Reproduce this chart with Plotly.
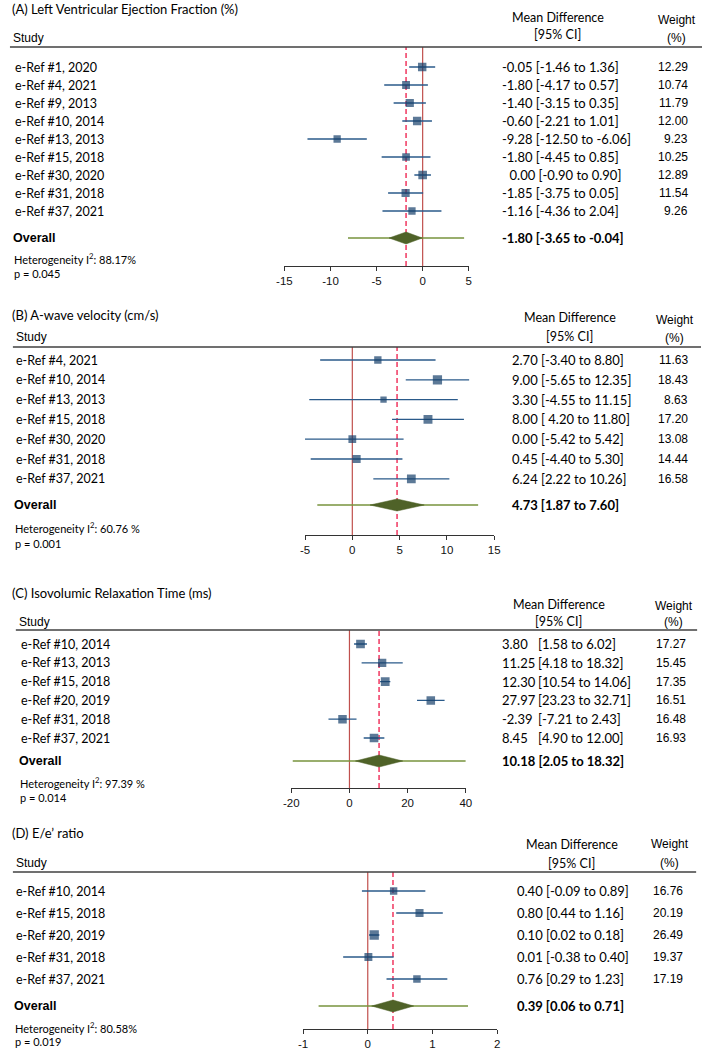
import math
import plotly.graph_objects as go

W, H = 709, 1050

# ---------------- Panel A: Left Ventricular Ejection Fraction ----------------
A_title = "(A) Left Ventricular Ejection Fraction (%)"
A_studies = ["e-Ref #1, 2020", "e-Ref #4, 2021", "e-Ref #9, 2013", "e-Ref #10, 2014",
             "e-Ref #13, 2013", "e-Ref #15, 2018", "e-Ref #30, 2020", "e-Ref #31, 2018",
             "e-Ref #37, 2021"]
A_md = [-0.05, -1.80, -1.40, -0.60, -9.28, -1.80, 0.00, -1.85, -1.16]
A_lo = [-1.46, -4.17, -3.15, -2.21, -12.50, -4.45, -0.90, -3.75, -4.36]
A_hi = [1.36, 0.57, 0.35, 1.01, -6.06, 0.85, 0.90, 0.05, 2.04]
A_weight = [12.29, 10.74, 11.79, 12.00, 9.23, 10.25, 12.89, 11.54, 9.26]
A_est_text = ["-0.05 [-1.46 to 1.36]", "-1.80 [-4.17 to 0.57]", "-1.40 [-3.15 to 0.35]",
              "-0.60 [-2.21 to 1.01]", "-9.28 [-12.50 to -6.06]", "-1.80 [-4.45 to 0.85]",
              "\u20070.00 [-0.90 to 0.90]", "-1.85 [-3.75 to 0.05]", "-1.16 [-4.36 to 2.04]"]
A_ci_text = [""] * 9
A_pooled = [-1.80, -3.65, -0.04]
A_pred = [-8.1, 4.5]
A_pooled_text = "-1.80 [-3.65 to -0.04]"
A_het = "Heterogeneity I<sup>2</sup>: 88.17%"
A_p = "p = 0.045"
A_ticks = [-15, -10, -5, 0, 5]

# ---------------- Panel B: A-wave velocity ----------------
B_title = "(B) A-wave velocity (cm/s)"
B_studies = ["e-Ref #4, 2021", "e-Ref #10, 2014", "e-Ref #13, 2013", "e-Ref #15, 2018",
             "e-Ref #30, 2020", "e-Ref #31, 2018", "e-Ref #37, 2021"]
B_md = [2.70, 9.00, 3.30, 8.00, 0.00, 0.45, 6.24]
B_lo = [-3.40, 5.65, -4.55, 4.20, -5.42, -4.40, 2.22]
B_hi = [8.80, 12.35, 11.15, 11.80, 5.42, 5.30, 10.26]
B_weight = [11.63, 18.43, 8.63, 17.20, 13.08, 14.44, 16.58]
B_est_text = ["2.70 [-3.40 to 8.80]", "9.00 [-5.65 to 12.35]", "3.30 [-4.55 to 11.15]",
              "8.00 [ 4.20 to 11.80]", "0.00 [-5.42 to 5.42]", "0.45 [-4.40 to 5.30]",
              "6.24 [2.22 to 10.26]"]
B_ci_text = [""] * 7
B_pooled = [4.73, 1.87, 7.60]
B_pred = [-3.7, 13.3]
B_pooled_text = "4.73 [1.87 to 7.60]"
B_het = "Heterogeneity I<sup>2</sup>: 60.76 %"
B_p = "p = 0.001"
B_ticks = [-5, 0, 5, 10, 15]

# ---------------- Panel C: Isovolumic Relaxation Time ----------------
C_title = "(C) Isovolumic Relaxation Time (ms)"
C_studies = ["e-Ref #10, 2014", "e-Ref #13, 2013", "e-Ref #15, 2018", "e-Ref #20, 2019",
             "e-Ref #31, 2018", "e-Ref #37, 2021"]
C_md = [3.80, 11.25, 12.30, 27.97, -2.39, 8.45]
C_lo = [1.58, 4.18, 10.54, 23.23, -7.21, 4.90]
C_hi = [6.02, 18.32, 14.06, 32.71, 2.43, 12.00]
C_weight = [17.27, 15.45, 17.35, 16.51, 16.48, 16.93]
C_est_text = ["3.80", "11.25", "12.30", "27.97", "-2.39", "8.45"]
C_ci_text = ["[1.58 to 6.02]", "[4.18 to 18.32]", "[10.54 to 14.06]", "[23.23 to 32.71]",
             "[-7.21 to 2.43]", "[4.90 to 12.00]"]
C_pooled = [10.18, 2.05, 18.32]
C_pred = [-19.5, 40.0]
C_pooled_text = "10.18 [2.05 to 18.32]"
C_het = "Heterogeneity I<sup>2</sup>: 97.39 %"
C_p = "p = 0.014"
C_ticks = [-20, 0, 20, 40]

# ---------------- Panel D: E/e' ratio ----------------
D_title = "(D) E/e\u2019 ratio"
D_studies = ["e-Ref #10, 2014", "e-Ref #15, 2018", "e-Ref #20, 2019", "e-Ref #31, 2018",
             "e-Ref #37, 2021"]
D_md = [0.40, 0.80, 0.10, 0.01, 0.76]
D_lo = [-0.09, 0.44, 0.02, -0.38, 0.29]
D_hi = [0.89, 1.16, 0.18, 0.40, 1.23]
D_weight = [16.76, 20.19, 26.49, 19.37, 17.19]
D_est_text = ["0.40 [-0.09 to 0.89]", "0.80 [0.44 to 1.16]", "0.10 [0.02 to 0.18]",
              "0.01 [-0.38 to 0.40]", "0.76 [0.29 to 1.23]"]
D_ci_text = [""] * 5
D_pooled = [0.39, 0.06, 0.71]
D_pred = [-0.76, 1.55]
D_pooled_text = "0.39 [0.06 to 0.71]"
D_het = "Heterogeneity I<sup>2</sup>: 80.58%"
D_p = "p = 0.019"
D_ticks = [-1, 0, 1, 2]

# ---------------- layout geometry (pixels) ----------------
GEOM = [
    dict(title_y=9, study_x=4, study_y=38, hdr_y=47, hdr_x0=2, hdr_x1=708, md_x=561, md_y=18,
         ci_y=35, wt_x=682, wt_y=20, pct_y=38, row0=67, drow=18, ov_y=238, het_y=258, p_y=273,
         lab_x=6, ax_y=266, ax_x0=282, ax_x1=470, txt_x=503, txt2_x=540, wr_x=695, msz=2.4),
    dict(title_y=315, study_x=7, study_y=337, hdr_y=347, hdr_x0=5, hdr_x1=707, md_x=573, md_y=317,
         ci_y=337, wt_x=680, wt_y=320, pct_y=338, row0=360, drow=19.8, ov_y=505, het_y=527,
         p_y=543, lab_x=7, ax_y=535, ax_x0=303, ax_x1=496, txt_x=513, txt2_x=540, wr_x=695, msz=2.15),
    dict(title_y=593, study_x=10, study_y=622, hdr_y=630, hdr_x0=8, hdr_x1=703, md_x=562, md_y=604,
         ci_y=621, wt_x=679, wt_y=606, pct_y=622, row0=644, drow=18.8, ov_y=761, het_y=782,
         p_y=797, lab_x=12, ax_y=788, ax_x0=289, ax_x1=467, txt_x=503, txt2_x=540, wr_x=693, msz=2.1),
    dict(title_y=833, study_x=7, study_y=863, hdr_y=872, hdr_x0=5, hdr_x1=702, md_x=575, md_y=844,
         ci_y=863, wt_x=675, wt_y=844, pct_y=863, row0=891, drow=22, ov_y=1006, het_y=1027,
         p_y=1041, lab_x=7, ax_y=1029, ax_x0=301, ax_x1=499, txt_x=518, txt2_x=540, wr_x=690, msz=1.8),
]

PANELS = [
    dict(title=A_title, studies=A_studies, md=A_md, lo=A_lo, hi=A_hi, w=A_weight, est=A_est_text,
         ci=A_ci_text, pooled=A_pooled, pred=A_pred, ptxt=A_pooled_text, het=A_het, p=A_p, ticks=A_ticks),
    dict(title=B_title, studies=B_studies, md=B_md, lo=B_lo, hi=B_hi, w=B_weight, est=B_est_text,
         ci=B_ci_text, pooled=B_pooled, pred=B_pred, ptxt=B_pooled_text, het=B_het, p=B_p, ticks=B_ticks),
    dict(title=C_title, studies=C_studies, md=C_md, lo=C_lo, hi=C_hi, w=C_weight, est=C_est_text,
         ci=C_ci_text, pooled=C_pooled, pred=C_pred, ptxt=C_pooled_text, het=C_het, p=C_p, ticks=C_ticks),
    dict(title=D_title, studies=D_studies, md=D_md, lo=D_lo, hi=D_hi, w=D_weight, est=D_est_text,
         ci=D_ci_text, pooled=D_pooled, pred=D_pred, ptxt=D_pooled_text, het=D_het, p=D_p, ticks=D_ticks),
]

CAL = "Lato, 'Open Sans', sans-serif"
ARI = "'Liberation Sans', Arial, sans-serif"
TXT = "#000000"
SQ = "#17406b"
CI_LINE = "#2a5a8a"
DIAMOND = "#4f6228"
PRED = "#77933c"
NULL_LINE = "#c0504d"
POOL_LINE = "#f0365f"


def px(x):
    return x / W


def py(y):
    return 1 - y / H


fig = go.Figure()
annotations = []
shapes = []
layout_axes = {}


def ann(text, x, y, xanchor="left", family=CAL, size=12, yref="paper", bold=False):
    annotations.append(dict(text=f"<b>{text}</b>" if bold else text, x=px(x), y=y,
                            xref="paper", yref=yref, xanchor=xanchor, yanchor="middle",
                            align=xanchor, showarrow=False, borderpad=0,
                            font=dict(family=family, size=size, color=TXT)))


for k, (P, G) in enumerate(zip(PANELS, GEOM), start=1):
    xa = "x" if k == 1 else f"x{k}"
    ya = "y" if k == 1 else f"y{k}"
    xkey = "xaxis" if k == 1 else f"xaxis{k}"
    ykey = "yaxis" if k == 1 else f"yaxis{k}"
    n = len(P["studies"])
    rows = [G["row0"] + i * G["drow"] for i in range(n)]

    layout_axes[xkey] = dict(
        domain=[px(G["ax_x0"]), px(G["ax_x1"])], range=[P["ticks"][0], P["ticks"][-1]],
        anchor=ya, showline=True, linecolor="#333333", linewidth=1, ticks="outside",
        ticklen=4, tickwidth=1, tickcolor="#333333", tickvals=P["ticks"],
        ticktext=[str(t) for t in P["ticks"]],
        tickfont=dict(family=ARI, size=11.5, color="#111111"), showgrid=False, zeroline=False,
        fixedrange=True)
    layout_axes[ykey] = dict(
        domain=[py(G["ax_y"]), py(G["hdr_y"])], range=[G["ax_y"], G["hdr_y"]], anchor=xa,
        visible=False, showgrid=False, zeroline=False, fixedrange=True)

    # CI whiskers
    cx, cy = [], []
    for lo, hi, y in zip(P["lo"], P["hi"], rows):
        cx += [lo, hi, None]
        cy += [y, y, None]
    fig.add_trace(go.Scatter(x=cx, y=cy, mode="lines", line=dict(color=CI_LINE, width=1.3),
                             xaxis=xa, yaxis=ya, hoverinfo="skip", showlegend=False))
    # squares
    fig.add_trace(go.Scatter(x=P["md"], y=rows, mode="markers",
                             marker=dict(symbol="square", color=SQ,
                                         size=[G["msz"] * math.sqrt(w) for w in P["w"]],
                                         line=dict(width=0)),
                             xaxis=xa, yaxis=ya, showlegend=False))
    # prediction line
    fig.add_trace(go.Scatter(x=P["pred"], y=[G["ov_y"], G["ov_y"]], mode="lines",
                             line=dict(color=PRED, width=1.4), xaxis=xa, yaxis=ya,
                             hoverinfo="skip", showlegend=False))
    # diamond
    est, plo, phi = P["pooled"]
    h = 6
    fig.add_trace(go.Scatter(x=[plo, est, phi, est, plo],
                             y=[G["ov_y"], G["ov_y"] - h, G["ov_y"], G["ov_y"] + h, G["ov_y"]],
                             mode="lines", fill="toself", fillcolor=DIAMOND,
                             line=dict(color=DIAMOND, width=0.5), xaxis=xa, yaxis=ya,
                             hoverinfo="skip", showlegend=False))

    # vertical reference lines
    shapes.append(dict(type="line", xref=xa, yref=f"{ya} domain", x0=0, x1=0, y0=0, y1=1,
                       line=dict(color=NULL_LINE, width=1.2), layer="below"))
    shapes.append(dict(type="line", xref=xa, yref=f"{ya} domain", x0=est, x1=est, y0=0, y1=1,
                       line=dict(color=POOL_LINE, width=1.5, dash="5px,3px"), layer="below"))
    # header rule
    shapes.append(dict(type="line", xref="paper", yref="paper", x0=px(G["hdr_x0"]),
                       x1=px(G["hdr_x1"]), y0=py(G["hdr_y"]), y1=py(G["hdr_y"]),
                       line=dict(color="#404040", width=1.5)))

    ann(P["title"], 3, py(G["title_y"]), size=13)
    ann("Study", G["study_x"], py(G["study_y"]), family=ARI, size=12)
    ann("Mean Difference", G["md_x"], py(G["md_y"]), xanchor="center", size=12.5)
    ann("[95% CI]", G["md_x"], py(G["ci_y"]), xanchor="center", size=12.5)
    ann("Weight", G["wt_x"], py(G["wt_y"]), xanchor="center", family=ARI, size=12)
    ann("(%)", G["wt_x"], py(G["pct_y"]), xanchor="center", family=ARI, size=12)
    for i, y in enumerate(rows):
        ann(P["studies"][i], G["lab_x"], y, yref=ya, size=12.5)
        ann(P["est"][i], G["txt_x"], y, yref=ya, size=13)
        if P["ci"][i]:
            ann(P["ci"][i], G["txt2_x"], y, yref=ya, size=13)
        ann(f"{P['w'][i]:.2f}", G["wr_x"], y, xanchor="right", yref=ya, family=ARI, size=12)
    ann("Overall", G["lab_x"] - 2, G["ov_y"], yref=ya, family=ARI, size=12.5, bold=True)
    ann(P["ptxt"], G["txt_x"], G["ov_y"], yref=ya, size=13, bold=True)
    ann(P["het"], G["lab_x"] - 1, py(G["het_y"]), size=11)
    ann(P["p"], G["lab_x"] - 1, py(G["p_y"]), size=11)

fig.update_layout(
    width=W, height=H, autosize=False, margin=dict(l=0, r=0, t=0, b=0, pad=0),
    paper_bgcolor="white", plot_bgcolor="white", showlegend=False,
    annotations=annotations, shapes=shapes, **layout_axes)

fig.write_html("out.html", config={"displayModeBar": False, "responsive": False},
               post_script="document.body.style.margin='0';document.body.style.overflow='hidden';")
